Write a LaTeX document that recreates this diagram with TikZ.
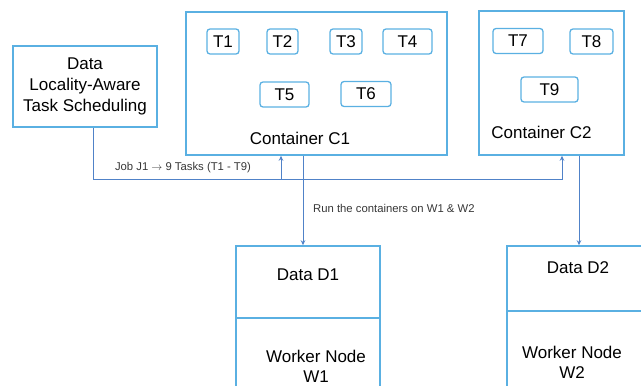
\documentclass[tikz,border=0pt]{standalone}
\usepackage{fontspec}
\setmainfont{Liberation Sans}
\usepackage{xcolor}
\usetikzlibrary{arrows.meta}
\definecolor{boxblue}{RGB}{90,176,226}
\definecolor{lineblue}{RGB}{80,130,200}
\definecolor{txtgray}{RGB}{55,55,55}
\tikzset{
	box/.style={draw=boxblue, line width=1.5pt, inner sep=0pt},
	task/.style={draw=boxblue, line width=1.3pt, rounded corners=3pt, inner sep=0pt, minimum height=25pt, font=\fontsize{17}{20}\selectfont},
	conn/.style={draw=lineblue, line width=1pt},
	big/.style={font=\fontsize{17}{20}\selectfont, align=center, inner sep=0pt},
	small/.style={font=\fontsize{11.3}{13}\selectfont, text=txtgray, inner sep=0pt}
}

\begin{document}
\begin{tikzpicture}[x=1pt, y=-1pt, >={Stealth[length=5pt,width=4.5pt]}]
		\clip (0,0) rectangle (641,386);
		\node[box, minimum width=144pt, minimum height=81pt, big, font=\fontsize{17}{21}\selectfont] (sched) at (85,86.5) {Data\\Locality-Aware\\Task Scheduling};
		\node[box, minimum width=261pt, minimum height=143pt] (C1) at (316.5,83.5) {};
		\node[big] (C1name) at (300,138) {Container C1};
		\node[box, minimum width=145pt, minimum height=144pt] (C2) at (551.5,83) {};
		\node[big] (C2name) at (541.5,132) {Container C2};
		\foreach \t/\x/\y/\w in {1/223/41.5/32, 2/282.5/41.5/31, 3/346/41.5/32, 4/407.5/41.5/49, 5/284.5/94.5/49, 6/366/94/50, 7/518/41/50, 8/591.5/41.5/43, 9/549.5/89.5/57}
			\node[task, minimum width={\w pt}] (T\t) at (\x,\y) {T\t};
		\node[box, minimum width=144pt, minimum height=72pt] (D1) at (308,282) {};
		\node[box, minimum width=144pt, minimum height=82pt] (W1) at (308,359) {};
		\node[big] (D1name) at (308,275) {Data D1};
		\node[big] (W1name) at (316,366) {Worker Node\\W1};
		\node[box, minimum width=144pt, minimum height=65pt] (D2) at (579,278.5) {};
		\node[box, minimum width=144pt, minimum height=89pt] (W2) at (579,355.5) {};
		\node[big] (D2name) at (578,268) {Data D2};
		\node[big] (W2name) at (572,362) {Worker Node\\W2};
		\coordinate (jobL) at (281,179);
		\coordinate (jobR) at (562,179);
		\draw[conn, ->] ([xshift=8pt]sched.south) |- (jobR) -- (jobR |- C2.south);
		\draw[conn, ->] (jobL) -- (jobL |- C1.south);
		\draw[conn, ->] ([xshift=-13.5pt]C1.south) -- ([xshift=-5pt]D1.north);
		\draw[conn, ->] (D2.north |- C2.south) -- (D2.north);
		\node[small] (jobtext) at (183,168) {Job J1 $\rightarrow$ 9 Tasks (T1 - T9)};
		\node[small, anchor=west] (runtext) at (313,208) {Run the containers on W1 \& W2};
	\end{tikzpicture}
\end{document}
